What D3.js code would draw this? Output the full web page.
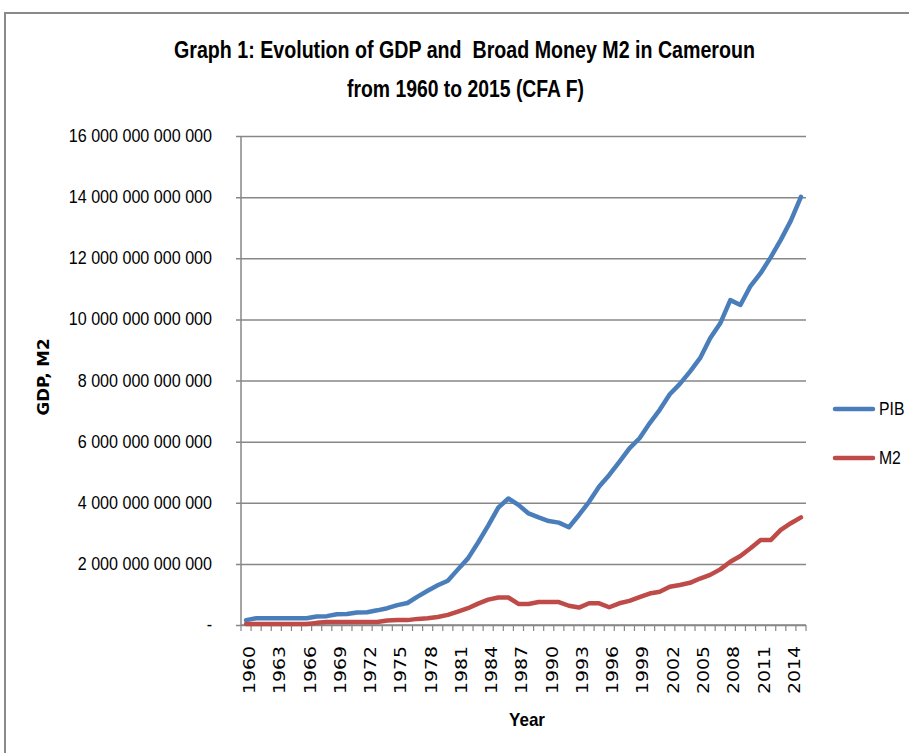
<!DOCTYPE html>
<html>
<head>
<meta charset="utf-8">
<script src="https://cdn.jsdelivr.net/npm/d3@7"></script>
<style>
  body { margin: 0; background: #fff; }
  text { white-space: pre; }
</style>
</head>
<body>
<div id="chart"></div>
<script>
// values in trillions of CFA F
const years = d3.range(1960, 2016);
const pib = [
  0.16, 0.22, 0.22, 0.22, 0.22, 0.22, 0.22, 0.28, 0.29, 0.35,
  0.36, 0.41, 0.42, 0.48, 0.55, 0.65, 0.72, 0.93, 1.12, 1.30,
  1.45, 1.82, 2.18, 2.70, 3.25, 3.84, 4.14, 3.93, 3.65, 3.52,
  3.40, 3.35, 3.20, 3.60, 4.03, 4.53, 4.91, 5.34, 5.78, 6.11,
  6.60, 7.04, 7.55, 7.89, 8.29, 8.73, 9.38, 9.87, 10.63, 10.47,
  11.09, 11.51, 12.03, 12.60, 13.23, 14.01
];
const m2 = [
  0.03, 0.03, 0.03, 0.03, 0.03, 0.03, 0.03, 0.07, 0.10, 0.10,
  0.10, 0.10, 0.10, 0.10, 0.15, 0.16, 0.16, 0.20, 0.22, 0.26,
  0.33, 0.44, 0.55, 0.70, 0.83, 0.90, 0.90, 0.69, 0.69, 0.75,
  0.75, 0.75, 0.63, 0.57, 0.71, 0.71, 0.58, 0.71, 0.79, 0.91,
  1.03, 1.09, 1.25, 1.31, 1.38, 1.52, 1.64, 1.82, 2.07, 2.26,
  2.51, 2.78, 2.78, 3.11, 3.33, 3.52
];
const yTicks = [0, 2, 4, 6, 8, 10, 12, 14, 16];
const seriesNames = ["PIB", "M2"];
const UNIT = 1e12;

const W = 909, H = 753;
const colors = { PIB: "#4A7EBB", M2: "#BE4B48" };
const gridColor = "#878787";

const svg = d3.select("#chart").append("svg")
  .attr("width", W).attr("height", H)
  .style("font-family", "'Liberation Sans', Arial, sans-serif");

// squeeze text horizontally a bit, the original font is a narrow one
function narrow(sel, k) {
  sel.each(function () {
    const len = this.getComputedTextLength();
    if (len > 0) {
      d3.select(this).attr("textLength", len * k).attr("lengthAdjust", "spacingAndGlyphs");
    }
  });
}

// outer chart frame
svg.append("rect")
  .attr("x", 5).attr("y", 13).attr("width", 930).attr("height", 760)
  .attr("fill", "none").attr("stroke", "#8a8a8a").attr("stroke-width", 2);

const x = d3.scaleBand().domain(years).range([241, 806]);
const y = d3.scaleLinear().domain([0, 16 * UNIT]).range([625, 136]);

// horizontal gridlines + tick labels
const fmt = v => v === 0 ? "-" : d3.format(",.0f")(v).replace(/,/g, " ");
const yAxis = svg.append("g")
  .attr("transform", "translate(241,0)")
  .call(d3.axisLeft(y).tickValues(yTicks.map(t => t * UNIT))
    .tickSizeInner(-565).tickSizeOuter(0).tickPadding(29).tickFormat(fmt));
yAxis.select(".domain").remove();
yAxis.selectAll(".tick line")
  .attr("x1", -5).attr("stroke", gridColor).attr("stroke-width", 1.5);
yAxis.selectAll(".tick text")
  .attr("fill", "#000").style("font-size", "17.5px")
  .style("font-family", "'Liberation Sans', Arial, sans-serif")
  .call(narrow, 0.92);

// vertical axis line
svg.append("line")
  .attr("x1", 241).attr("x2", 241).attr("y1", 136).attr("y2", 625)
  .attr("stroke", gridColor).attr("stroke-width", 1.5);

// category axis with ticks between categories
const xAxis = svg.append("g").attr("transform", "translate(0,625)");
xAxis.append("line")
  .attr("x1", 241).attr("x2", 806)
  .attr("stroke", gridColor).attr("stroke-width", 1.5);
xAxis.selectAll(".xtick")
  .data(years.concat([2016]))
  .join("line")
  .attr("class", "xtick")
  .attr("x1", (d, i) => i < years.length ? x(d) : x.range()[1])
  .attr("x2", (d, i) => i < years.length ? x(d) : x.range()[1])
  .attr("y1", 0).attr("y2", 6)
  .attr("stroke", gridColor).attr("stroke-width", 1.2);

svg.append("g").selectAll("text")
  .data(years.filter(d => (d - 1960) % 3 === 0))
  .join("text")
  .attr("transform", d => `translate(${x(d) + x.bandwidth() / 2 + 3.5},646) rotate(-90)`)
  .attr("text-anchor", "end")
  .attr("dy", "0.35em")
  .attr("textLength", 48)
  .attr("lengthAdjust", "spacingAndGlyphs")
  .style("font-family", "'DejaVu Sans', Verdana, sans-serif")
  .style("font-size", "15.5px")
  .text(d => d);

// lines
const line = d3.line()
  .x((d, i) => x(years[i]) + x.bandwidth() / 2)
  .y(d => y(d * UNIT));

[["PIB", pib], ["M2", m2]].forEach(([name, vals]) => {
  svg.append("path")
    .datum(vals)
    .attr("fill", "none")
    .attr("stroke", colors[name])
    .attr("stroke-width", 4.5)
    .attr("stroke-linejoin", "round")
    .attr("stroke-linecap", "round")
    .attr("d", line);
});

// title
const title = svg.append("g")
  .style("font-weight", "bold").style("font-size", "23px");
title.append("text")
  .attr("x", 174).attr("y", 58)
  .attr("textLength", 581).attr("lengthAdjust", "spacingAndGlyphs")
  .text("Graph 1: Evolution of GDP and  Broad Money M2 in Cameroun");
title.append("text")
  .attr("x", 347).attr("y", 97)
  .attr("textLength", 237).attr("lengthAdjust", "spacingAndGlyphs")
  .text("from 1960 to 2015 (CFA F)");

// axis titles
svg.append("text")
  .attr("transform", "translate(43,377) rotate(-90)")
  .attr("text-anchor", "middle").attr("dy", "0.35em")
  .attr("textLength", 77).attr("lengthAdjust", "spacingAndGlyphs")
  .style("font-family", "'DejaVu Sans', Verdana, sans-serif")
  .style("font-weight", "bold").style("font-size", "16px")
  .text("GDP, M2");

svg.append("text")
  .attr("x", 527).attr("y", 726)
  .attr("text-anchor", "middle")
  .attr("textLength", 36).attr("lengthAdjust", "spacingAndGlyphs")
  .style("font-weight", "bold").style("font-size", "19px")
  .text("Year");

// legend
const legend = svg.append("g").selectAll("g")
  .data(seriesNames)
  .join("g")
  .attr("transform", (d, i) => `translate(835,${409 + i * 49})`);
legend.append("line")
  .attr("x1", 0).attr("x2", 38)
  .attr("stroke", d => colors[d]).attr("stroke-width", 4.5)
  .attr("stroke-linecap", "round");
legend.append("text")
  .attr("x", 44).attr("dy", "0.35em")
  .style("font-size", "17.5px")
  .text(d => d)
  .call(narrow, 0.9);
</script>
</body>
</html>
